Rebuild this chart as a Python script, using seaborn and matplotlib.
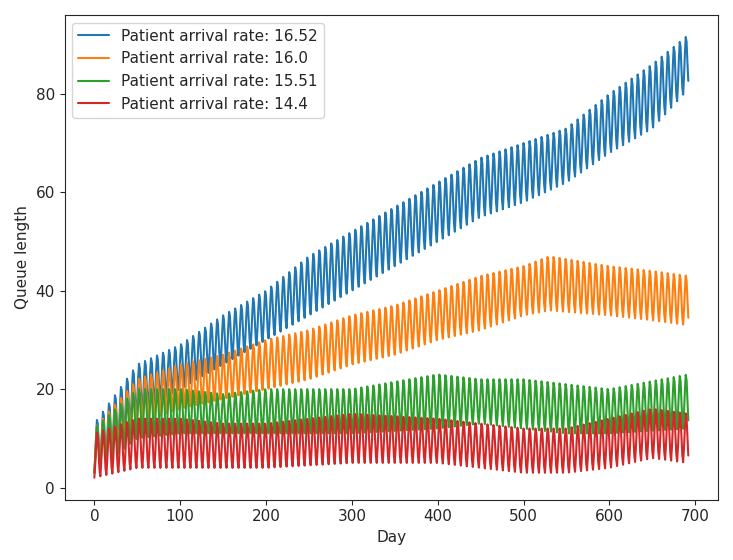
import numpy as np
import pandas as pd
import matplotlib
matplotlib.use("Agg")
import matplotlib.pyplot as plt
import seaborn as sns

# envelope nodes: (day, trough, peak)
days_blue = [0, 50, 100, 150, 200, 250, 300, 350, 400, 450, 500, 550, 600, 650, 692]
low_blue = [3, 15, 20, 25, 30, 35, 40, 45, 50, 55, 58, 62, 68, 73, 81]
high_blue = [13, 25, 29, 35, 40, 47, 52, 57, 62, 67, 70, 73, 80, 86, 92]

days_orange = [0, 50, 100, 150, 200, 250, 300, 350, 400, 450, 500, 530, 600, 650, 692]
low_orange = [3, 13, 16, 18, 20, 22, 25, 27, 30, 32, 35, 36, 35, 34, 33]
high_orange = [12, 22, 25, 27, 30, 32, 35, 37, 40, 43, 45, 47, 45, 44, 43]

days_green = [0, 50, 100, 150, 200, 300, 400, 450, 500, 550, 600, 692]
low_green = [3, 10, 11, 11, 11, 11, 12, 13, 12, 11, 11, 12]
high_green = [12, 20, 20, 19, 20, 20, 23, 22, 22, 21, 20, 23]

days_red = [0, 50, 100, 150, 200, 300, 400, 450, 500, 550, 600, 650, 692]
low_red = [2, 4, 4, 4, 4, 5, 5, 4, 3, 3, 4, 6, 5]
high_red = [11, 14, 14, 13, 13, 15, 14, 13, 12, 12, 14, 16, 15]

rates = ["16.52", "16.0", "15.51", "14.4"]
weekly_shape = [0.0, 0.3, 0.7, 1.0, 0.9, 0.5, 0.15]

day = np.arange(693)
shape = np.array([weekly_shape[d % 7] for d in day])

frames = []
for r, (dd, lo, hi) in zip(rates, [(days_blue, low_blue, high_blue),
                                   (days_orange, low_orange, high_orange),
                                   (days_green, low_green, high_green),
                                   (days_red, low_red, high_red)]):
    l = np.interp(day, dd, lo)
    h = np.interp(day, dd, hi)
    frames.append(pd.DataFrame({"Day": day, "Queue length": l + (h - l) * shape,
                                "rate": "Patient arrival rate: " + r}))
df = pd.concat(frames)

sns.set_style("ticks")
plt.rcParams["font.family"] = ["DejaVu Sans"]
fig, ax = plt.subplots(figsize=(7.33, 5.6), dpi=100)
sns.lineplot(data=df, x="Day", y="Queue length", hue="rate",
             palette=["#1f77b4", "#ff7f0e", "#2ca02c", "#d62728"], ax=ax, linewidth=1.5)
ax.legend(title=None, loc="upper left", fontsize=11)
ax.set_xticks(range(0, 701, 100))
ax.set_yticks(range(0, 81, 20))
ax.tick_params(labelsize=11)
ax.set_xlabel("Day", fontsize=11)
ax.set_ylabel("Queue length", fontsize=11)
plt.tight_layout()
plt.savefig("out.png")
